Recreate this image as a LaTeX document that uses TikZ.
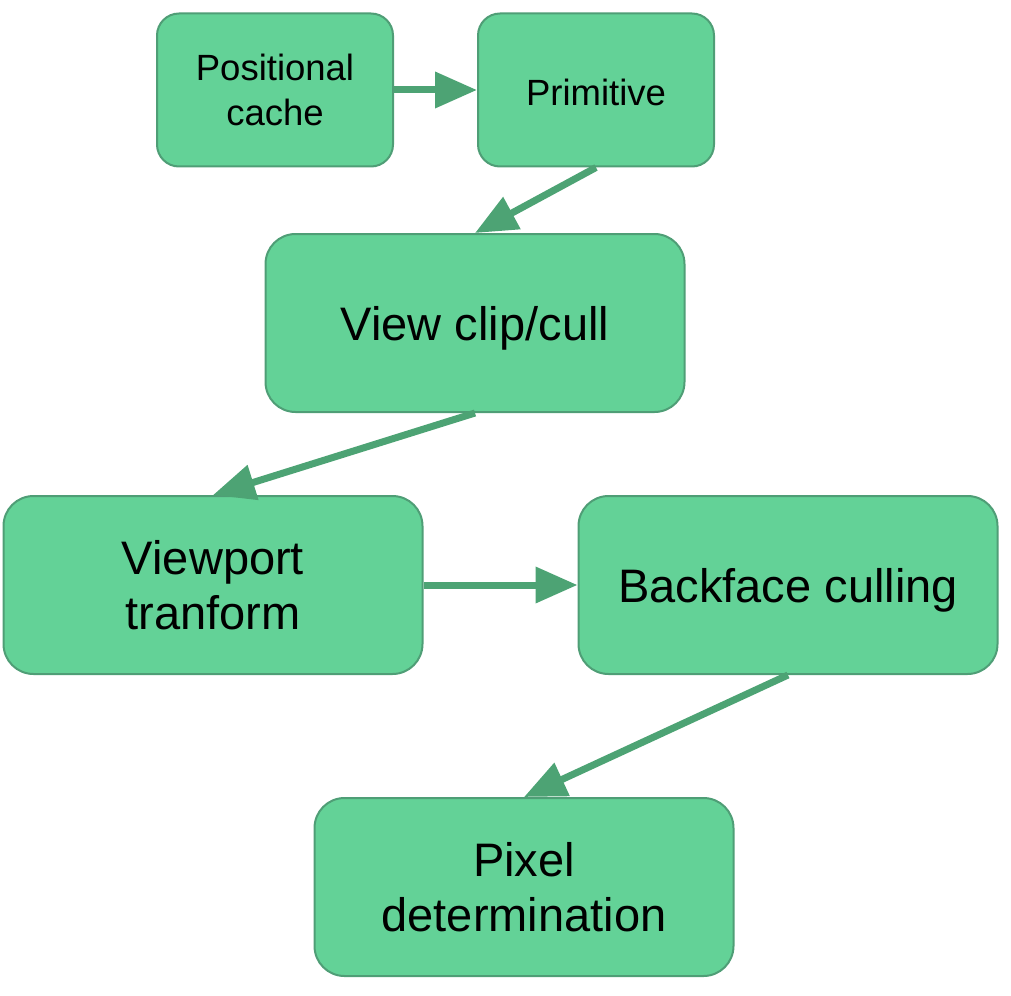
\documentclass[tikz,border=0pt]{standalone}
\usepackage{fontspec}
\setmainfont{Liberation Sans}
\usetikzlibrary{arrows.meta}

\definecolor{boxfill}{HTML}{63D297}
\definecolor{boxline}{HTML}{4F9E76}
\definecolor{flowline}{HTML}{4DA374}

\tikzset{
  stage/.style={draw=boxline, fill=boxfill, line width=2pt, align=center,
    minimum width=236pt, minimum height=153pt, rounded corners=22pt,
    font=\fontsize{36.5}{45}\selectfont},
  bigstage/.style={stage, minimum width=419pt, minimum height=178pt,
    rounded corners=30pt, font=\fontsize{47}{55}\selectfont},
  sink/.style={execute at begin node={\rule{0pt}{#1}}},
  flow/.style={draw=flowline, line width=7pt,
    -{Triangle[length=42pt, width=35pt]}}
}

\begin{document}
\begin{tikzpicture}[x=1pt, y=-1pt]
        \useasboundingbox (0,0) rectangle (1011,995);
        \node[stage, sink=31pt] (poscache) at (275,90) {Positional\\cache};
        \node[stage, sink=31pt] (primitive) at (596,90) {Primitive};
        \node[bigstage, sink=45pt] (viewclip) at (475,323) {View clip/cull};
        \node[bigstage, sink=39pt] (viewport) at (213,585) {Viewport\\tranform};
        \node[bigstage, sink=45pt] (backface) at (788,585) {Backface culling};
        \node[bigstage, sink=39pt] (pixel) at (524,887) {Pixel\\determination};
        \draw[flow] (poscache.east) -- (primitive.west);
        \draw[flow] (primitive.south) -- (viewclip.north);
        \draw[flow] (viewclip.south) -- (viewport.north);
        \draw[flow] (viewport.east) -- (backface.west);
        \draw[flow] (backface.south) -- (pixel.north);
\end{tikzpicture}
\end{document}
